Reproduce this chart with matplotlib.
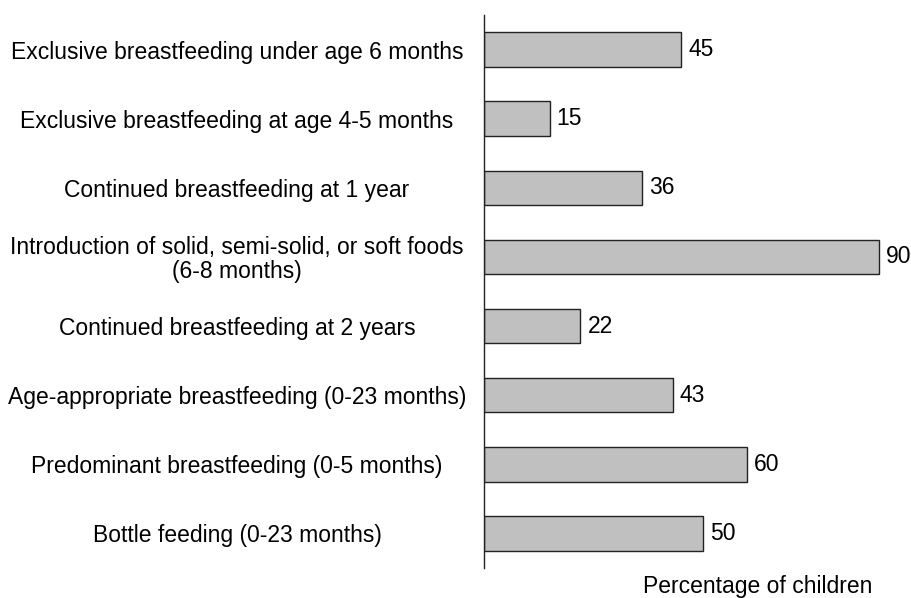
import matplotlib
matplotlib.use("Agg")
import matplotlib.pyplot as plt
import matplotlib.transforms as mtrans

categories = [
    "Exclusive breastfeeding under age 6 months",
    "Exclusive breastfeeding at age 4-5 months",
    "Continued breastfeeding at 1 year",
    "Introduction of solid, semi-solid, or soft foods\n(6-8 months)",
    "Continued breastfeeding at 2 years",
    "Age-appropriate breastfeeding (0-23 months)",
    "Predominant breastfeeding (0-5 months)",
    "Bottle feeding (0-23 months)",
]
values = [45, 15, 36, 90, 22, 43, 60, 50]

plt.rcParams['font.family'] = ['Liberation Sans', 'DejaVu Sans']
FS = 16.5
W, H = 911, 598
fig = plt.figure(figsize=(W / 100, H / 100), dpi=100)
ax = fig.add_axes([484 / W, 1 - 568 / H, (905 - 484) / W, (568 - 15) / H])

y = list(range(len(categories)))
ax.barh(y, values, height=0.5, color="#c0c0c0", edgecolor="#222222", linewidth=1.0)
for yi, v in zip(y, values):
    ax.annotate(str(v), (v, yi), xytext=(5, 0), textcoords="offset points",
                va="center", ha="left", fontsize=FS)

ax.set_ylim(len(categories) - 0.5, -0.5)
ax.set_xlim(0, 96)
ax.set_yticks(y)
ax.set_yticklabels(categories, fontsize=FS, ha="center")
ax.tick_params(axis="y", length=0, pad=0)
ax.set_xticks([])
for s in ["top", "right", "bottom"]:
    ax.spines[s].set_visible(False)
ax.spines["left"].set_linewidth(1.0)
ax.spines["left"].set_color("#222222")

fig.canvas.draw()
for lab in ax.get_yticklabels():
    lab.set_transform(mtrans.blended_transform_factory(fig.transFigure, ax.transData))
    lab.set_x(237 / W)
    lab.set_multialignment("center")
    lab.set_linespacing(1.05)

fig.text(872 / W, 1 - 593 / H, "Percentage of children", ha="right", va="baseline", fontsize=FS)

fig.savefig("out.png", dpi=100)
